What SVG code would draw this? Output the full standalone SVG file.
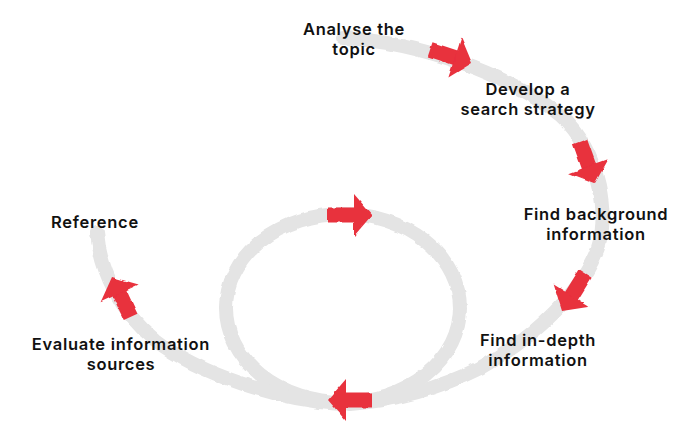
<svg xmlns="http://www.w3.org/2000/svg" width="700" height="440" viewBox="0 0 700 440">
  <defs>
    <filter id="rough" x="-5%" y="-5%" width="110%" height="110%">
      <feTurbulence type="fractalNoise" baseFrequency="0.09" numOctaves="2" seed="3" result="n"/>
      <feDisplacementMap in="SourceGraphic" in2="n" scale="3.5" xChannelSelector="R" yChannelSelector="G"/>
    </filter>
    <g id="arrow">
      <rect x="-44" y="-7.5" width="28" height="15"/>
      <polygon points="0,0 -18,-21 -18,21"/>
    </g>
  </defs>
  <style>
    .band { fill: none; stroke: #e4e4e4; stroke-width: 14; stroke-linecap: round; }
    .arr { fill: #e8303e; }
    .lbl { font-family: Inter, "Open Sans", "Liberation Sans", sans-serif; font-weight: 600; font-size: 16.5px; letter-spacing: 0.7px; fill: #111111; text-anchor: middle; }
  </style>
  <rect width="700" height="440" fill="#ffffff"/>

  <g id="connectors" filter="url(#rough)">
    <path class="band" d="M343,38 C 420,42 510,75 560,115 C 600,150 612,220 595,255 C 580,290 540,335 480,368 C 440,388 400,400 350,404"/>
    <ellipse class="band" cx="343" cy="308" rx="117" ry="94"/>
    <path class="band" d="M340,404 C 280,400 200,375 155,340 C 120,312 100,270 97,232"/>
    <g class="arr">
      <use href="#arrow" transform="translate(472,63) rotate(18)"/>
      <use href="#arrow" transform="translate(595,183) rotate(70)"/>
      <use href="#arrow" transform="translate(562,311) rotate(122)"/>
      <use href="#arrow" transform="translate(328,400) rotate(180)"/>
      <use href="#arrow" transform="translate(372,215)"/>
      <use href="#arrow" transform="translate(112,277) rotate(-115)"/>
    </g>
  </g>

  <g id="analyse"><text class="lbl" x="354" y="35">Analyse the</text><text class="lbl" x="354" y="55">topic</text></g>
  <g id="develop"><text class="lbl" x="528" y="95">Develop a</text><text class="lbl" x="528" y="115">search strategy</text></g>
  <g id="background"><text class="lbl" x="596" y="220">Find background</text><text class="lbl" x="596" y="240">information</text></g>
  <g id="indepth"><text class="lbl" x="538" y="346">Find in-depth</text><text class="lbl" x="538" y="366">information</text></g>
  <g id="evaluate"><text class="lbl" x="121" y="350">Evaluate information</text><text class="lbl" x="121" y="370">sources</text></g>
  <g id="reference"><text class="lbl" x="95" y="228">Reference</text></g>
</svg>
